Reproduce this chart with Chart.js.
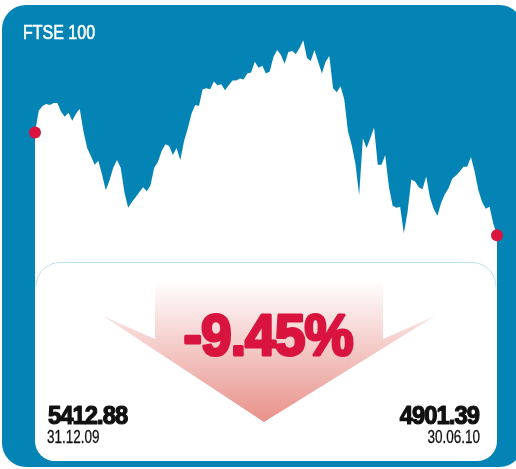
<!DOCTYPE html>
<html>
<head>
<meta charset="utf-8">
<script src="https://cdn.jsdelivr.net/npm/chart.js@4/dist/chart.umd.min.js"></script>
<style>
  html, body { margin: 0; padding: 0; background: #fff; }
  canvas { display: block; }
</style>
</head>
<body>
<canvas id="ftse-chart" width="516" height="469"></canvas>
<script>
// FTSE 100 daily closes, 31.12.09 - 30.06.10
const ftse = [
  5412.88, 5520, 5544, 5554, 5549, 5559, 5559, 5515, 5491, 5510,
  5471, 5505, 5530, 5418, 5335, 5296, 5252, 5272, 5203, 5125,
  5174, 5237, 5276, 5237, 5116, 5038, 5067, 5091, 5116, 5140,
  5121, 5150, 5237, 5267, 5320, 5354, 5345, 5301, 5335, 5276,
  5369, 5432, 5505, 5549, 5544, 5627, 5632, 5627, 5666, 5647,
  5652, 5622, 5647, 5671, 5671, 5681, 5676, 5705, 5710, 5764,
  5734, 5744, 5705, 5715, 5788, 5822, 5798, 5754, 5812, 5817,
  5803, 5832, 5871, 5783, 5768, 5822, 5764, 5705, 5764, 5793,
  5632, 5613, 5642, 5578, 5418, 5350, 5257, 5101, 5384, 5335,
  5384, 5437, 5252, 5252, 5301, 5140, 5048, 5038, 5043, 4911,
  5018, 5179, 5169, 5140, 5130, 5194, 5091, 5033, 4999, 5062,
  5106, 5135, 5184, 5199, 5218, 5242, 5242, 5291, 5218, 5125,
  5067, 5033, 5043, 4960, 4901.39
];
const endValues = [5412.88, 4901.39];
const endDates = ["31.12.09", "30.06.10"];
const change = ["-9.45%"];
const title = "FTSE 100";

const BLUE = "#0484b4";
const RED = "#d8143f";

function roundRect(ctx, x, y, w, h, r) {
  // r = [tl, tr, br, bl]
  ctx.beginPath();
  ctx.moveTo(x + r[0], y);
  ctx.lineTo(x + w - r[1], y);
  ctx.arcTo(x + w, y, x + w, y + r[1], r[1]);
  ctx.lineTo(x + w, y + h - r[2]);
  ctx.arcTo(x + w, y + h, x + w - r[2], y + h, r[2]);
  ctx.lineTo(x + r[3], y + h);
  ctx.arcTo(x, y + h, x, y + h - r[3], r[3]);
  ctx.lineTo(x, y + r[0]);
  ctx.arcTo(x, y, x + r[0], y, r[0]);
  ctx.closePath();
}

// text with a horizontal squeeze and an optional stroke to make it heavier
function text(ctx, str, x, y, font, color, align, sx, spacing, heavy) {
  ctx.save();
  ctx.font = font;
  ctx.fillStyle = color;
  ctx.strokeStyle = color;
  ctx.textAlign = align;
  ctx.textBaseline = "alphabetic";
  ctx.lineJoin = "round";
  if (spacing) ctx.letterSpacing = spacing;
  ctx.translate(x, y);
  ctx.scale(sx, 1);
  ctx.fillText(str, 0, 0);
  if (heavy) {
    ctx.lineWidth = heavy;
    ctx.strokeText(str, 0, 0);
  }
  ctx.restore();
}

const backdrop = {
  id: "backdrop",
  beforeDatasetsDraw(chart) {
    const ctx = chart.ctx;
    const a = chart.chartArea;
    ctx.save();
    ctx.fillStyle = BLUE;
    roundRect(ctx, 2, 5, 520, 462, [24, 22, 22, 24]);
    ctx.fill();
    // lower white panel under the area
    ctx.fillStyle = "#fff";
    roundRect(ctx, a.left, 262, a.right - a.left, 199, [0, 0, 20, 20]);
    ctx.fill();
    ctx.restore();
  },
  afterDatasetsDraw(chart) {
    const ctx = chart.ctx;
    const a = chart.chartArea;
    ctx.save();
    // faint outline of the inner box
    ctx.strokeStyle = "#bfe2ef";
    ctx.lineWidth = 1;
    ctx.beginPath();
    ctx.moveTo(a.left + 1, 286.5);
    ctx.arcTo(a.left + 1, 262.5, a.left + 25, 262.5, 24);
    ctx.lineTo(a.right - 25, 262.5);
    ctx.arcTo(a.right - 1, 262.5, a.right - 1, 286.5, 24);
    ctx.stroke();

    // down arrow
    const g = ctx.createLinearGradient(0, 280, 0, 422);
    g.addColorStop(0, "rgba(255,255,255,1)");
    g.addColorStop(1, "#e8918a");
    ctx.fillStyle = g;
    ctx.beginPath();
    ctx.moveTo(155, 283);
    ctx.lineTo(383, 283);
    ctx.lineTo(383, 339);
    ctx.lineTo(435, 316);
    ctx.lineTo(264, 422);
    ctx.lineTo(103, 316);
    ctx.lineTo(155, 339);
    ctx.closePath();
    ctx.fill();
    ctx.restore();

    text(ctx, change[0], 268, 355, "bold 58px 'Liberation Sans', Arial, sans-serif", RED, "center", 0.95, "-1px", 3);

    text(ctx, endValues[0].toFixed(2), 48, 424, "bold 25px 'Liberation Sans', Arial, sans-serif", "#111", "left", 0.95, "-1px", 1.2);
    text(ctx, endDates[0], 47, 443, "18px 'Liberation Sans', Arial, sans-serif", "#111", "left", 0.75, "0px", 0.3);
    text(ctx, endValues[1].toFixed(2), 479, 424, "bold 25px 'Liberation Sans', Arial, sans-serif", "#111", "right", 0.95, "-1px", 1.2);
    text(ctx, endDates[1], 480, 443, "18px 'Liberation Sans', Arial, sans-serif", "#111", "right", 0.75, "0px", 0.3);

    text(ctx, title, 23, 39, "20px 'Liberation Sans', Arial, sans-serif", "#fff", "left", 0.8, "0px", 0.6);
  }
};

const last = ftse.length - 1;
new Chart("ftse-chart", {
  type: "line",
  data: {
    labels: ftse.map((_, i) => i),
    datasets: [
      {
        label: title,
        data: ftse,
        fill: "start",
        backgroundColor: "#fff",
        borderWidth: 0,
        borderColor: "rgba(0,0,0,0)",
        tension: 0,
        clip: false,
        pointRadius: c => (c.dataIndex === 0 || c.dataIndex === last ? 6 : 0),
        pointBackgroundColor: RED,
        pointBorderWidth: 0,
        pointHoverRadius: 0
      }
    ]
  },
  options: {
    responsive: false,
    devicePixelRatio: 1,
    animation: false,
    events: [],
    layout: { padding: { left: 35, right: 19, top: 0, bottom: 169 } },
    plugins: { legend: { display: false }, tooltip: { enabled: false } },
    scales: {
      x: { display: false, offset: false },
      y: { display: false, min: 4580, max: 6041 }
    }
  },
  plugins: [backdrop]
});
</script>
</body>
</html>
